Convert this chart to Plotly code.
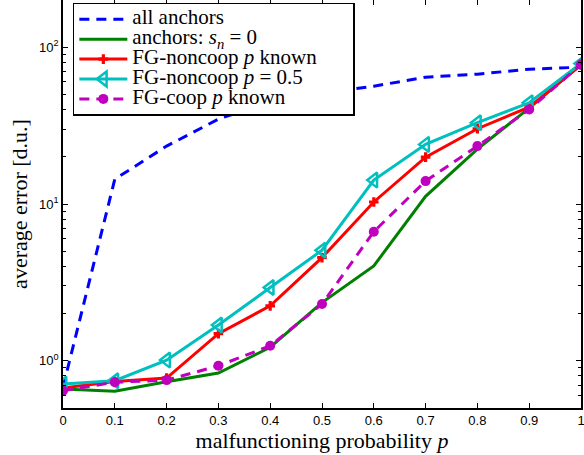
import numpy as np
import plotly.graph_objects as go

p = [0, 0.1, 0.2, 0.3, 0.4, 0.5, 0.6, 0.7, 0.8, 0.9, 1.0]

all_anchors = [0.68, 14.4, 23.4, 34.8, 45.0, 51.0, 56.4, 64.4, 67.3, 72.4, 74.6]
anchors_sn0 = [0.66, 0.64, 0.735, 0.835, 1.22, 2.35, 4.03, 11.2, 22.4, 40.9, 77.8]
fg_noncoop_known = [0.67, 0.738, 0.776, 1.49, 2.24, 4.55, 10.3, 19.9, 30.2, 41.5, 77.0]
fg_noncoop_05 = [0.71, 0.746, 1.01, 1.69, 2.93, 5.07, 14.2, 24.0, 33.0, 44.2, 78.7]
fg_coop_known = [0.645, 0.73, 0.753, 0.929, 1.246, 2.3, 6.66, 14.0, 23.4, 40.1, 77.6]

names = ["all anchors",
         "anchors: <i>s<sub>n</sub></i> = 0",
         "FG-noncoop <i>p</i> known" + "&nbsp;" * 6,
         "FG-noncoop <i>p</i> = 0.5",
         "FG-coop <i>p</i> known"]

x_ticks = [0, 0.1, 0.2, 0.3, 0.4, 0.5, 0.6, 0.7, 0.8, 0.9, 1]
x_ticktext = ["0", "0.1", "0.2", "0.3", "0.4", "0.5", "0.6", "0.7", "0.8", "0.9", "1"]
y_ticks = [1, 10, 100]
y_ticktext = ["10<sup>0</sup>", "10<sup>1</sup>", "10<sup>2</sup>"]
y_minor = [0.5, 0.6, 0.7, 0.8, 0.9, 2, 3, 4, 5, 6, 7, 8, 9,
           20, 30, 40, 50, 60, 70, 80, 90, 200]

serif = "Liberation Serif, Times New Roman, serif"
sans = "Liberation Sans, Arial, sans-serif"


def lg(s):
    return '<span style="font-size:21px">' + s + '</span>'


fig = go.Figure()
fig.add_trace(go.Scatter(x=p, y=all_anchors, mode="lines", name=lg(names[0]),
                         line=dict(color="#0000ff", width=3, dash="10px,7px")))
fig.add_trace(go.Scatter(x=p, y=anchors_sn0, mode="lines", name=lg(names[1]),
                         line=dict(color="#008000", width=3)))
fig.add_trace(go.Scatter(x=p, y=fg_noncoop_known, mode="lines+markers", name=lg(names[2]),
                         line=dict(color="#ff0000", width=3),
                         marker=dict(symbol="cross", size=8, color="#ff0000")))
fig.add_trace(go.Scatter(x=p, y=fg_noncoop_05, mode="lines+markers", name=lg(names[3]),
                         line=dict(color="#00bfbf", width=3),
                         marker=dict(symbol="triangle-left-open", size=13,
                                     color="#00bfbf", line=dict(width=2.5, color="#00bfbf"))))
fig.add_trace(go.Scatter(x=p, y=fg_coop_known, mode="lines+markers", name=lg(names[4]),
                         line=dict(color="#bf00bf", width=3, dash="10px,7px"),
                         marker=dict(symbol="circle", size=10, color="#bf00bf")))

fig.update_layout(
    width=584, height=455,
    margin=dict(l=63, r=3, t=0, b=47),
    paper_bgcolor="white", plot_bgcolor="white",
    showlegend=True,
    legend=dict(x=0.019, y=0.993, xanchor="left", yanchor="top",
                bgcolor="white", bordercolor="black", borderwidth=1.5,
                font=dict(family=serif, size=13, color="black"),
                tracegroupgap=0, itemwidth=48),
)
fig.update_xaxes(range=[0, 1], tickvals=x_ticks, ticktext=x_ticktext, automargin=False,
                 ticklabeloverflow="allow",
                 showgrid=False, zeroline=False, showline=True, linecolor="black",
                 linewidth=1.5, mirror="allticks", ticks="inside", ticklen=5,
                 tickcolor="black", tickfont=dict(family=sans, size=13, color="black"),
                 title=dict(text="malfunctioning probability <i>p</i>",
                            font=dict(family=serif, size=22, color="black"), standoff=0))
fig.update_yaxes(type="log", range=[np.log10(0.5), np.log10(200)], automargin=False,
                 tickvals=y_ticks, ticktext=y_ticktext,
                 showgrid=False, zeroline=False, showline=True, linecolor="black",
                 linewidth=1.5, mirror="allticks", ticks="inside", ticklen=5,
                 tickcolor="black", tickfont=dict(family=sans, size=13, color="black"),
                 minor=dict(tickvals=y_minor, ticks="inside", ticklen=3, tickcolor="black"),
                 title=dict(text="average error [d.u.]",
                            font=dict(family=serif, size=22, color="black"), standoff=5))

fig.write_html("out.html", config={"displayModeBar": False},
               post_script="document.body.style.margin='0px';")
